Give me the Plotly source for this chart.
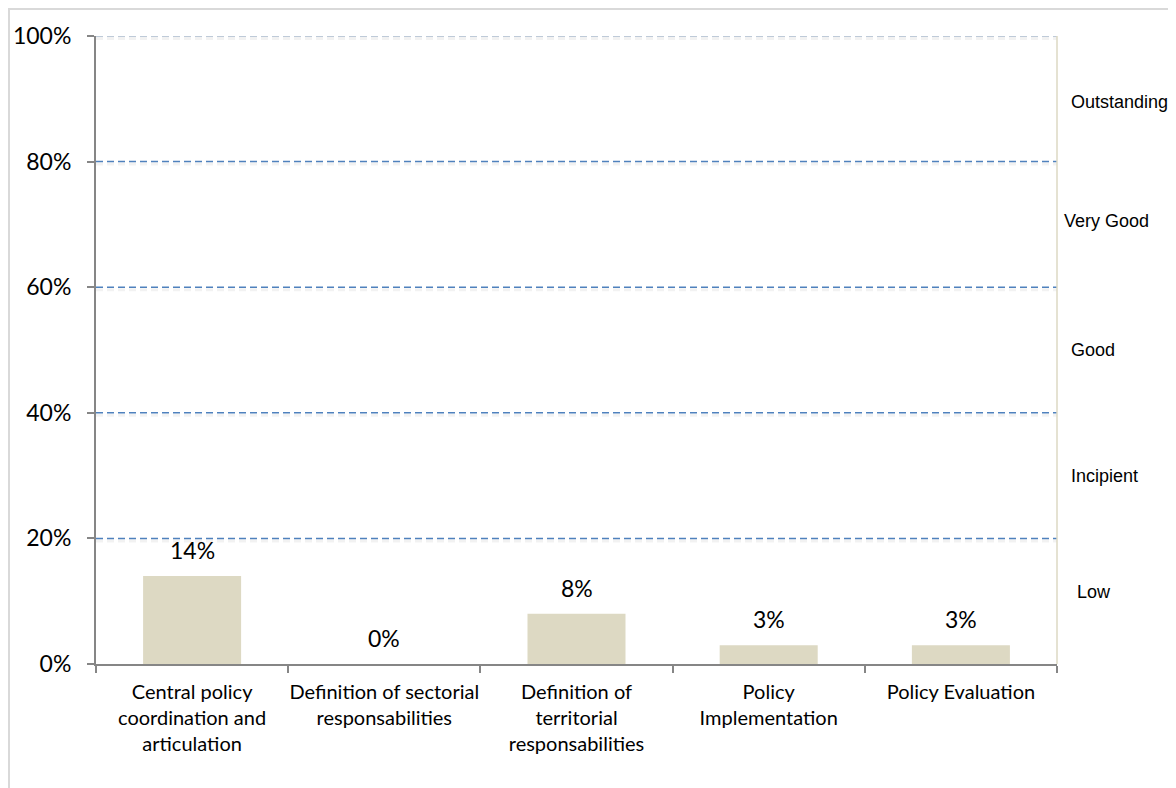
import plotly.graph_objects as go

categories = [
    "Central policy<br>coordination and<br>articulation",
    "Definition of sectorial<br>responsabilities",
    "Definition of<br>territorial<br>responsabilities",
    "Policy<br>Implementation",
    "Policy Evaluation",
]
values = [14, 0, 8, 3, 3]
value_labels = ["14%", "0%", "8%", "3%", "3%"]

band_labels = ["Outstanding", "Very Good", "Good", "Incipient", "Low"]
band_positions = [89.5, 70.5, 50, 30, 11.5]

grid_levels = [20, 40, 60, 80, 100]
y_ticks = [0, 20, 40, 60, 80, 100]
y_tick_text = ["0%", "20%", "40%", "60%", "80%", "100%"]

OFF = 8  # page body offset
W, H = 1176 - OFF, 788 - OFF
ML, MT = 96 - OFF, 36 - OFF
pw, ph = 961, 628
MR = W - ML - pw
MB = H - MT - ph
shadow_dy = 2.5 * 100 / ph  # 2.5 px in data units

fig = go.Figure()
fig.add_trace(go.Bar(
    x=categories, y=values,
    marker=dict(color="#DDD9C3", line=dict(width=0)),
    width=0.51, hoverinfo="skip", showlegend=False,
))

shapes = []
for g in grid_levels:
    shapes.append(dict(type="line", xref="paper", yref="y", x0=0, x1=1,
                       y0=g - shadow_dy, y1=g - shadow_dy,
                       line=dict(color="rgba(0,0,0,0.05)", width=3, dash="7px,4px"), layer="below"))
for g in grid_levels:
    color = "#4F81BD" if g < 100 else "#A9B9CC"
    shapes.append(dict(type="line", xref="paper", yref="y", x0=0, x1=1, y0=g, y1=g,
                       line=dict(color=color, width=1.5, dash="7px,4px"), layer="below"))
shapes.append(dict(type="line", xref="paper", yref="y", x0=1, x1=1, y0=0, y1=100,
                   line=dict(color="#DDD9C3", width=1.5), layer="above"))
bx0 = (1 - ML) / pw
by1 = (ph + MT - 1) / ph
shapes.append(dict(type="rect", xref="paper", yref="paper", x0=bx0, x1=1.5, y0=-0.5, y1=by1,
                   line=dict(color="#D9D9D9", width=2), fillcolor="rgba(0,0,0,0)"))

annotations = []
for c, v, t in zip(categories, values, value_labels):
    annotations.append(dict(x=c, y=v, xref="x", yref="y", text=t, showarrow=False,
                            yanchor="bottom", yshift=10,
                            font=dict(family="Lato", size=23, color="#000000")))
band_xshift = [12, 5, 12, 12, 18]
for lab, pos, xs in zip(band_labels, band_positions, band_xshift):
    annotations.append(dict(x=1, y=pos, xref="paper", yref="y", text=lab, showarrow=False,
                            xanchor="left", xshift=xs,
                            font=dict(family="Liberation Sans, Arial", size=18, color="#000000")))

fig.update_layout(
    width=W, height=H,
    margin=dict(l=ML, r=MR, t=MT, b=MB, pad=0, autoexpand=False),
    paper_bgcolor="white", plot_bgcolor="white",
    shapes=shapes, annotations=annotations,
    xaxis=dict(
        type="category", tickson="boundaries", tickangle=0, automargin=False,
        showline=True, linecolor="#868686", linewidth=2,
        ticks="outside", ticklen=7, tickcolor="#868686", tickwidth=2,
        showgrid=False, zeroline=False, fixedrange=True, ticklabelstandoff=9,
        tickfont=dict(family="Lato", size=20, color="#000000"),
    ),
    yaxis=dict(
        range=[0, 100], tickmode="array", tickvals=y_ticks, ticktext=y_tick_text,
        automargin=False,
        showline=True, linecolor="#868686", linewidth=2,
        ticks="outside", ticklen=7, tickcolor="#868686", tickwidth=2,
        showgrid=False, zeroline=False, ticklabelstandoff=11,
        tickfont=dict(family="Lato", size=23, color="#000000"),
    ),
)

fig.write_html("out.html")
